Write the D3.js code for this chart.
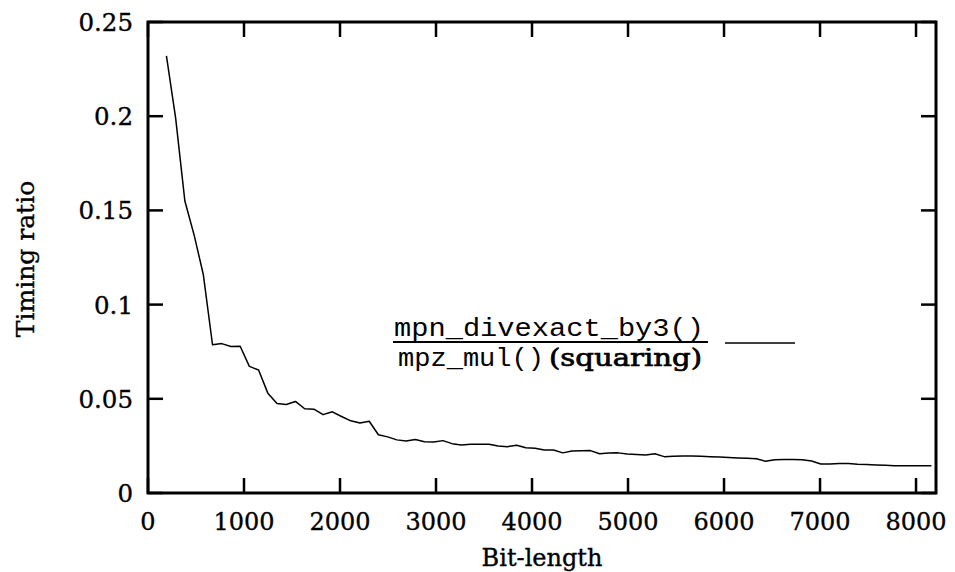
<!DOCTYPE html>
<html>
<head>
<meta charset="utf-8">
<script src="https://cdn.jsdelivr.net/npm/d3@7/dist/d3.min.js"></script>
<style>
  html, body { margin: 0; padding: 0; background: #fff; }
  svg { display: block; }
</style>
</head>
<body>
<svg id="chart" width="955" height="572"></svg>
<script>
// ---- data ----
const bitLengths = [
  192, 288, 384, 480, 576, 672, 768, 864, 960, 1056,
  1152, 1248, 1344, 1440, 1536, 1632, 1728, 1824, 1920, 2016,
  2112, 2208, 2304, 2400, 2496, 2592, 2688, 2784, 2880, 2976,
  3072, 3168, 3264, 3360, 3456, 3552, 3648, 3744, 3840, 3936,
  4032, 4128, 4224, 4320, 4416, 4512, 4608, 4704, 4800, 4896,
  4992, 5088, 5184, 5280, 5376, 5472, 5568, 5664, 5760, 5856,
  5952, 6048, 6144, 6240, 6336, 6432, 6528, 6624, 6720, 6816,
  6912, 7008, 7104, 7200, 7296, 7392, 7488, 7584, 7680, 7776,
  7872, 7968, 8064, 8160
];
const timingRatio = [
  0.232, 0.199, 0.155, 0.137, 0.116, 0.0787, 0.0793, 0.0778, 0.0779, 0.0672,
  0.0653, 0.0530, 0.0475, 0.0470, 0.0486, 0.0447, 0.0445, 0.0416, 0.0431, 0.0406,
  0.0383, 0.0372, 0.0381, 0.0309, 0.0298, 0.0282, 0.0276, 0.0284, 0.0272, 0.0271,
  0.0278, 0.0262, 0.0255, 0.0259, 0.0259, 0.0259, 0.0249, 0.0246, 0.0253, 0.0240,
  0.0238, 0.0228, 0.0228, 0.0213, 0.0223, 0.0224, 0.0225, 0.0208, 0.0212, 0.0213,
  0.0207, 0.0205, 0.0202, 0.0208, 0.0193, 0.0195, 0.0197, 0.0197, 0.0195, 0.0193,
  0.0191, 0.0188, 0.0186, 0.0184, 0.0182, 0.0169, 0.0177, 0.0178, 0.0178, 0.0177,
  0.0170, 0.0154, 0.0154, 0.0156, 0.0156, 0.0152, 0.0151, 0.0149, 0.0147, 0.0145,
  0.0144, 0.0144, 0.0144, 0.0144
];
const xTicks = [0, 1000, 2000, 3000, 4000, 5000, 6000, 7000, 8000];
const yTicks = [0, 0.05, 0.1, 0.15, 0.2, 0.25];
const yTickLabels = ["0", "0.05", "0.1", "0.15", "0.2", "0.25"];
const xLabel = "Bit-length";
const yLabel = "Timing ratio";
const legendNumerator = "mpn_divexact_by3()";
const legendDenomMono = "mpz_mul()";
const legendDenomText = "(squaring)";

// ---- layout ----
const L = 148, R = 936, T = 22, B = 493;
const serif = "'DejaVu Serif', 'Liberation Serif', serif";
const mono = "'Liberation Mono', 'DejaVu Sans Mono', monospace";

const svg = d3.select("#chart");
const x = d3.scaleLinear().domain([0, 8208]).range([L, R]);
const y = d3.scaleLinear().domain([0, 0.25]).range([B, T]);

const tickLen = 15;

// ticks inward on all four sides
const gx = svg.append("g");
gx.selectAll("line.b").data(xTicks).enter().append("line")
  .attr("x1", d => x(d)).attr("x2", d => x(d))
  .attr("y1", B).attr("y2", B - tickLen)
  .attr("stroke", "#000").attr("stroke-width", 2.5);
gx.selectAll("line.t").data(xTicks).enter().append("line")
  .attr("x1", d => x(d)).attr("x2", d => x(d))
  .attr("y1", T).attr("y2", T + tickLen)
  .attr("stroke", "#000").attr("stroke-width", 2.5);
const gy = svg.append("g");
gy.selectAll("line.l").data(yTicks).enter().append("line")
  .attr("x1", L).attr("x2", L + tickLen)
  .attr("y1", d => y(d)).attr("y2", d => y(d))
  .attr("stroke", "#000").attr("stroke-width", 2.5);
gy.selectAll("line.r").data(yTicks).enter().append("line")
  .attr("x1", R).attr("x2", R - tickLen)
  .attr("y1", d => y(d)).attr("y2", d => y(d))
  .attr("stroke", "#000").attr("stroke-width", 2.5);

const textStroke = 0.35;

// tick labels
svg.append("g").selectAll("text").data(xTicks).enter().append("text")
  .attr("x", d => x(d)).attr("y", 530)
  .attr("text-anchor", "middle")
  .attr("font-family", serif).attr("font-size", 24)
  .attr("stroke", "#000").attr("stroke-width", textStroke)
  .text(d => String(d));
svg.append("g").selectAll("text").data(yTicks).enter().append("text")
  .attr("x", 133).attr("y", d => y(d) + 9)
  .attr("text-anchor", "end")
  .attr("font-family", serif).attr("font-size", 24.5)
  .attr("stroke", "#000").attr("stroke-width", textStroke)
  .text((d, i) => yTickLabels[i]);

// axis titles
svg.append("text")
  .attr("x", 542).attr("y", 566)
  .attr("text-anchor", "middle")
  .attr("font-family", serif).attr("font-size", 24)
  .attr("stroke", "#000").attr("stroke-width", textStroke)
  .text(xLabel);
svg.append("text")
  .attr("transform", "translate(34,259) rotate(-90)")
  .attr("text-anchor", "middle")
  .attr("font-family", serif).attr("font-size", 25)
  .attr("stroke", "#000").attr("stroke-width", textStroke)
  .text(yLabel);

// data line
const line = d3.line().x(d => x(d[0])).y(d => y(d[1]));
svg.append("path")
  .datum(bitLengths.map((b, i) => [b, timingRatio[i]]))
  .attr("d", line)
  .attr("fill", "none").attr("stroke", "#000").attr("stroke-width", 1.5)
  .attr("stroke-linejoin", "round");

// legend
const lg = svg.append("g");
lg.append("text")
  .attr("x", 394).attr("y", 336)
  .attr("font-family", mono).attr("font-size", 26)
  .attr("textLength", 310).attr("lengthAdjust", "spacingAndGlyphs")
  .text(legendNumerator);
lg.append("line")
  .attr("x1", 393).attr("x2", 708).attr("y1", 342).attr("y2", 342)
  .attr("stroke", "#000").attr("stroke-width", 2);
lg.append("text")
  .attr("x", 398).attr("y", 366)
  .attr("font-family", mono).attr("font-size", 26)
  .attr("textLength", 146).attr("lengthAdjust", "spacingAndGlyphs")
  .text(legendDenomMono);
lg.append("text")
  .attr("x", 549).attr("y", 366)
  .attr("font-family", serif).attr("font-size", 24)
  .attr("stroke", "#000").attr("stroke-width", 0.7)
  .attr("textLength", 153).attr("lengthAdjust", "spacingAndGlyphs")
  .text(legendDenomText);
lg.append("line")
  .attr("x1", 725).attr("x2", 795).attr("y1", 343).attr("y2", 343)
  .attr("stroke", "#000").attr("stroke-width", 1.5);

// frame
svg.append("rect")
  .attr("x", L).attr("y", T).attr("width", R - L).attr("height", B - T)
  .attr("fill", "none").attr("stroke", "#000").attr("stroke-width", 3);
</script>
</body>
</html>
